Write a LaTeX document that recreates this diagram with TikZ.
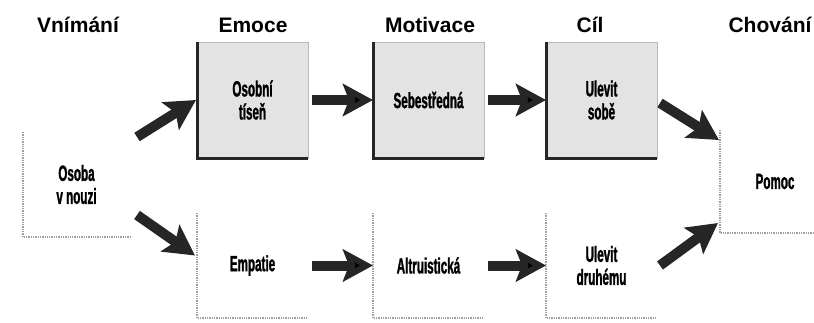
\documentclass[tikz,border=0pt]{standalone}
\usepackage{fontspec}
\setmainfont{Liberation Sans}
\newfontfamily\narrowfont{Liberation Sans Bold}[FakeStretch=0.53,FakeBold=1.2]
\usetikzlibrary{positioning,arrows.meta}

\begin{document}
\begin{tikzpicture}[
	x=1pt,y=-1pt,
	node distance=55pt and 65pt,
	myhead/.style={anchor=base,font=\bfseries\fontsize{21}{24}\selectfont},
	mybox/.style={minimum width=111pt,minimum height=116pt,inner sep=0pt,outer sep=0pt,align=center,font=\narrowfont\fontsize{22}{23}\selectfont},
	mygrey/.style={mybox,fill=gray!22,draw=gray!55},
	mywhite/.style={mybox,minimum height=105pt},
	mydots/.style={densely dotted,line width=1.3pt,gray!75},
	myarrow/.style={line width=10pt,draw=black!85,-{Stealth[length=30pt,width=32pt,inset=6pt]}}
	]
	\useasboundingbox (0,0) rectangle (814,322);
	% headers
	\node[myhead] (hvnimani) at (78,32) {Vnímání};
	\node[myhead] (hemoce) at (253,32) {Emoce};
	\node[myhead] (hmotivace) at (430,32) {Motivace};
	\node[myhead] (hcil) at (590,32) {Cíl};
	\node[myhead] (hchovani) at (770,32) {Chování};
	% top row
	\node[mygrey] (tisen) at (252.5,100) {Osobní\\tíseň};
	\node[mygrey,right=of tisen] (sebe) {Sebestředná};
	\node[mygrey,right=62pt of sebe] (sobe) {Ulevit\\sobě};
	% bottom row
	\node[mywhite,below=of tisen] (empatie) {Empatie};
	\node[mywhite,below=of sebe] (altru) {Altruistická};
	\node[mywhite,below=of sobe] (druhemu) {Ulevit\\druhému};
	% ends
	\node[mywhite,minimum width=107pt] (osoba) at (76.5,184.5) {Osoba\\v nouzi};
	\node[mywhite,minimum width=110pt,minimum height=103pt] (pomoc) at (775,181.5) {Pomoc};
	% edges of boxes
	\foreach \n in {tisen,sebe,sobe}
		\draw[line width=3pt,black!85] (\n.north west) -- (\n.south west) -- (\n.south east);
	\foreach \n in {osoba,empatie,altru,druhemu,pomoc}
		\draw[mydots] (\n.north west) -- (\n.south west) -- (\n.south east);
	% arrows
	\path [myarrow,shorten <=4pt]
	(tisen) edge (sebe)
	(sebe) edge (sobe)
	(empatie) edge (altru)
	(altru) edge (druhemu);
	\draw[myarrow] ([shift={(7pt,-5pt)}]osoba.north east) -- ([xshift=-1pt]tisen.west);
	\draw[myarrow] ([shift={(7pt,22pt)}]osoba.south east) -- ([shift={(-2pt,10pt)}]empatie.west);
	\draw[myarrow] ([shift={(3pt,-3pt)}]sobe.east) -- ([shift={(-1pt,-10pt)}]pomoc.north west);
	\draw[myarrow] ([xshift=3pt]druhemu.east) -- ([shift={(-2pt,10pt)}]pomoc.south west);
\end{tikzpicture}
\end{document}
